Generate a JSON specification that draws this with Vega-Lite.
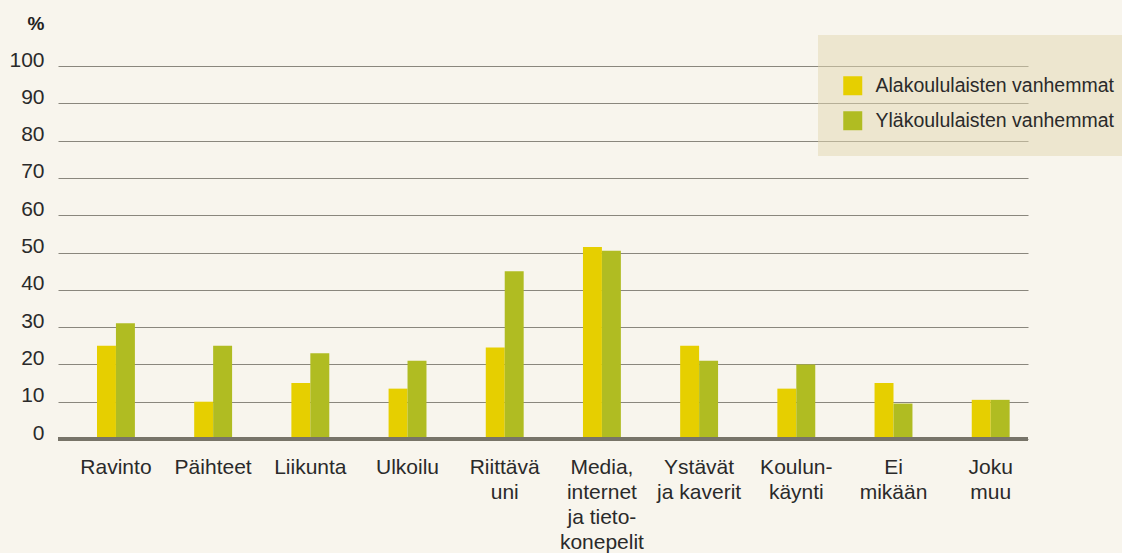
{
  "$schema": "https://vega.github.io/schema/vega-lite/v6.json",
  "width": 970,
  "height": 373,
  "autosize": {"type": "none"},
  "padding": {"left": 58, "top": 66, "right": 94, "bottom": 114},
  "background": "#f8f5ed",
  "config": {
    "view": {"stroke": null},
    "font": "Liberation Sans",
    "axisY": {
      "titleAngle": 0,
      "titleAlign": "right",
      "titleBaseline": "alphabetic",
      "titleX": -14,
      "titleY": -37,
      "titleFontSize": 19,
      "titleFontWeight": "bold",
      "titleColor": "#222222",
      "domain": false,
      "ticks": false,
      "grid": true,
      "gridColor": "#8a877d",
      "gridWidth": 1.2,
      "labelFontSize": 21,
      "labelBaseline": "alphabetic",
      "labelPadding": 14,
      "labelColor": "#2a2a2a",
      "labelOverlap": false
    }
  },
  "data": {
    "values": [
      {"category": "Ravinto", "group": "Alakoululaisten vanhemmat", "value": 25},
      {"category": "Ravinto", "group": "Yläkoululaisten vanhemmat", "value": 31},
      {"category": "Päihteet", "group": "Alakoululaisten vanhemmat", "value": 10},
      {"category": "Päihteet", "group": "Yläkoululaisten vanhemmat", "value": 25},
      {"category": "Liikunta", "group": "Alakoululaisten vanhemmat", "value": 15},
      {"category": "Liikunta", "group": "Yläkoululaisten vanhemmat", "value": 23},
      {"category": "Ulkoilu", "group": "Alakoululaisten vanhemmat", "value": 13.5},
      {"category": "Ulkoilu", "group": "Yläkoululaisten vanhemmat", "value": 21},
      {"category": "Riittävä|uni", "group": "Alakoululaisten vanhemmat", "value": 24.5},
      {"category": "Riittävä|uni", "group": "Yläkoululaisten vanhemmat", "value": 45},
      {"category": "Media,|internet|ja tieto-|konepelit", "group": "Alakoululaisten vanhemmat", "value": 51.5},
      {"category": "Media,|internet|ja tieto-|konepelit", "group": "Yläkoululaisten vanhemmat", "value": 50.5},
      {"category": "Ystävät|ja kaverit", "group": "Alakoululaisten vanhemmat", "value": 25},
      {"category": "Ystävät|ja kaverit", "group": "Yläkoululaisten vanhemmat", "value": 21},
      {"category": "Koulun-|käynti", "group": "Alakoululaisten vanhemmat", "value": 13.5},
      {"category": "Koulun-|käynti", "group": "Yläkoululaisten vanhemmat", "value": 20},
      {"category": "Ei|mikään", "group": "Alakoululaisten vanhemmat", "value": 15},
      {"category": "Ei|mikään", "group": "Yläkoululaisten vanhemmat", "value": 9.5},
      {"category": "Joku|muu", "group": "Alakoululaisten vanhemmat", "value": 10.5},
      {"category": "Joku|muu", "group": "Yläkoululaisten vanhemmat", "value": 10.5}
    ]
  },
  "layer": [
    {
      "mark": {"type": "bar"},
      "encoding": {
        "x": {
          "field": "category",
          "type": "nominal",
          "sort": null,
          "scale": {"paddingInner": 0.61, "paddingOuter": 0.295, "align": 0.68},
          "axis": {
            "title": null,
            "domain": false,
            "ticks": false,
            "grid": false,
            "labelAngle": 0,
            "labelExpr": "split(datum.value, '|')",
            "labelFontSize": 21,
            "labelLineHeight": 25,
            "labelPadding": 17,
            "labelColor": "#2a2a2a",
            "labelLimit": 300,
            "labelOverlap": false
          }
        },
        "xOffset": {
          "field": "group",
          "type": "nominal",
          "sort": ["Alakoululaisten vanhemmat", "Yläkoululaisten vanhemmat"],
          "scale": {"paddingInner": 0, "paddingOuter": 0}
        },
        "y": {
          "field": "value",
          "type": "quantitative",
          "scale": {"domain": [0, 100], "nice": false},
          "axis": {
            "title": "%",
            "values": [0, 10, 20, 30, 40, 50, 60, 70, 80, 90, 100]
          }
        },
        "color": {
          "field": "group",
          "type": "nominal",
          "scale": {
            "domain": ["Alakoululaisten vanhemmat", "Yläkoululaisten vanhemmat"],
            "range": ["#e6cf00", "#b0bc22"]
          },
          "legend": {
            "orient": "none",
            "legendX": 760,
            "legendY": -31,
            "direction": "vertical",
            "title": " ",
            "titleFontSize": 10,
            "titlePadding": 6,
            "padding": 25,
            "fillColor": "rgba(225,216,178,0.5)",
            "symbolType": "square",
            "symbolSize": 361,
            "symbolStrokeWidth": 0,
            "symbolOpacity": 1,
            "labelFontSize": 19.5,
            "labelOffset": 13,
            "rowPadding": 14,
            "labelLimit": 400,
            "labelColor": "#2a2a2a"
          }
        }
      }
    },
    {
      "mark": {"type": "rule", "color": "#77746a", "strokeWidth": 2.5},
      "encoding": {
        "y": {
          "datum": 0,
          "type": "quantitative",
          "axis": {
            "title": "%",
            "values": [0, 10, 20, 30, 40, 50, 60, 70, 80, 90, 100]
          }
        }
      }
    }
  ]
}
